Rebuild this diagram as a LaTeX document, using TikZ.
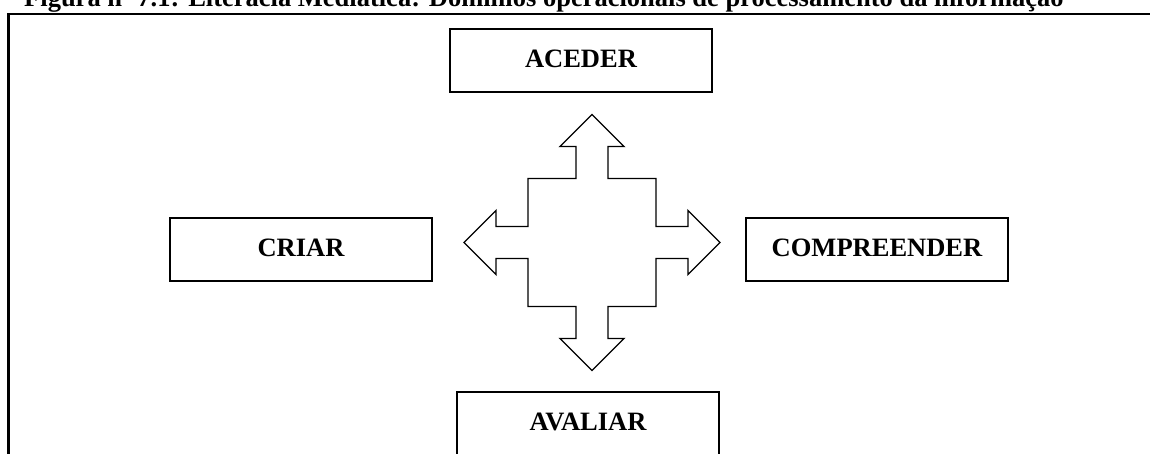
\documentclass[tikz,border=0pt]{standalone}
\usepackage{fontspec}
\setmainfont{Liberation Serif}
\begin{document}
\begin{tikzpicture}[x=1pt,y=-1pt,
  label font/.style={font=\fontsize{26.5}{30}\selectfont\bfseries},
  domain box/.style={draw=black, line width=1.6pt, label font,
    minimum width=262pt, minimum height=63pt, inner sep=0pt,
    text height=17.5pt, text depth=3.5pt},
  frame line/.style={line width=2.5pt, line cap=rect},
  cross line/.style={draw=black, line width=1.3pt, line join=miter}]
  \clip (0,0) rectangle (1150,453);
  \fill[white] (0,0) rectangle (1150,453);

  % caption, partly above the page edge
  \node[label font, anchor=base west, inner sep=0pt] (caption) at (24,6)
    {Figura nº 7.1: Literacia Mediática: Domínios operacionais de processamento da informação};

  % outer frame (left and top sides)
  \draw[frame line] (8.7,470) -- (8.7,14) -- (1170,14);

  % the four domains
  \node[domain box] (aceder)      at (581,60.5)   {ACEDER};
  \node[domain box] (criar)       at (301,249.5)  {CRIAR};
  \node[domain box] (compreender) at (877,249.75) {COMPREENDER};
  \node[domain box] (avaliar)     at (588,423.5)  {AVALIAR};

  % four-headed arrow in the middle
  \coordinate (hub) at (592,242.5);
  \draw[cross line] (hub)
    ++(16,-96) -- ++(0,32) -- ++(48,0) -- ++(0,48) -- ++(32,0)
    -- ++(0,-16) -- ++(32,32) -- ++(-32,32) -- ++(0,-16)
    -- ++(-32,0) -- ++(0,48) -- ++(-48,0) -- ++(0,32)
    -- ++(16,0) -- ++(-32,32) -- ++(-32,-32) -- ++(16,0)
    -- ++(0,-32) -- ++(-48,0) -- ++(0,-48) -- ++(-32,0)
    -- ++(0,16) -- ++(-32,-32) -- ++(32,-32) -- ++(0,16)
    -- ++(32,0) -- ++(0,-48) -- ++(48,0) -- ++(0,-32)
    -- ++(-16,0) -- ++(32,-32) -- ++(32,32) -- cycle;
\end{tikzpicture}
\end{document}
